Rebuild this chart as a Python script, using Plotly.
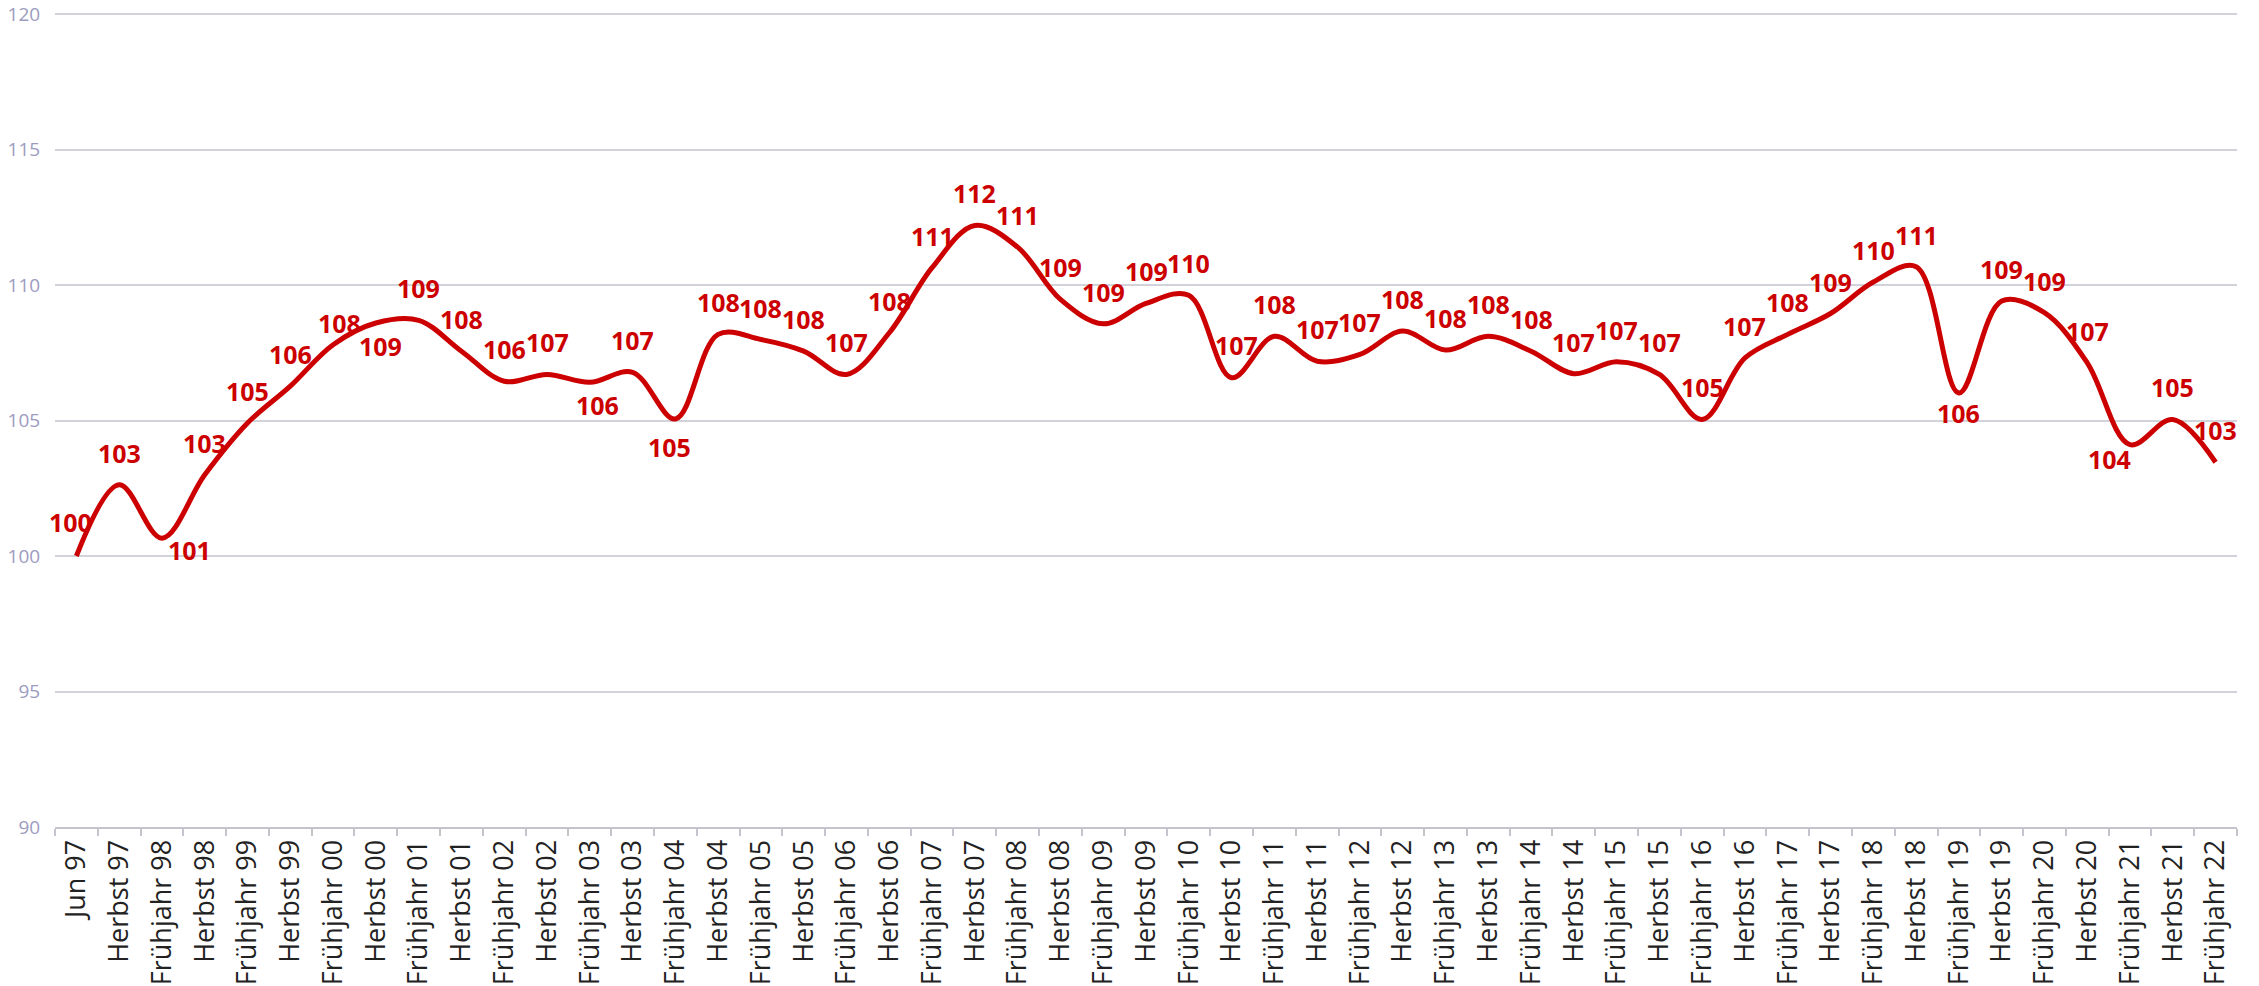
import plotly.graph_objects as go

categories = [
    "Jun 97", "Herbst 97",
    "Frühjahr 98", "Herbst 98", "Frühjahr 99", "Herbst 99", "Frühjahr 00", "Herbst 00",
    "Frühjahr 01", "Herbst 01", "Frühjahr 02", "Herbst 02", "Frühjahr 03", "Herbst 03",
    "Frühjahr 04", "Herbst 04", "Frühjahr 05", "Herbst 05", "Frühjahr 06", "Herbst 06",
    "Frühjahr 07", "Herbst 07", "Frühjahr 08", "Herbst 08", "Frühjahr 09", "Herbst 09",
    "Frühjahr 10", "Herbst 10", "Frühjahr 11", "Herbst 11", "Frühjahr 12", "Herbst 12",
    "Frühjahr 13", "Herbst 13", "Frühjahr 14", "Herbst 14", "Frühjahr 15", "Herbst 15",
    "Frühjahr 16", "Herbst 16", "Frühjahr 17", "Herbst 17", "Frühjahr 18", "Herbst 18",
    "Frühjahr 19", "Herbst 19", "Frühjahr 20", "Herbst 20", "Frühjahr 21", "Herbst 21",
    "Frühjahr 22",
]

values = [
    100.0, 102.63, 100.66, 103.0, 104.91, 106.27, 107.8, 108.6, 108.7, 107.56,
    106.45, 106.7, 106.41, 106.78, 105.06, 108.18, 107.99, 107.56, 106.7, 108.24,
    110.64, 112.2, 111.4, 109.47, 108.57, 109.32, 109.62, 106.58, 108.11, 107.19,
    107.44, 108.3, 107.6, 108.11, 107.56, 106.73, 107.17, 106.7, 105.04, 107.31,
    108.18, 108.95, 110.11, 110.68, 106.02, 109.41, 108.98, 107.13, 104.11, 105.04,
    103.46,
]

labels = [
    "100", "103", "101", "103", "105", "106", "108", "109", "109", "108",
    "106", "107", "106", "107", "105", "108", "108", "108", "107", "108",
    "111", "112", "111", "109", "109", "109", "110", "107", "108", "107",
    "107", "108", "108", "108", "108", "107", "107", "107", "105", "107",
    "108", "109", "110", "111", "106", "109", "109", "107", "104", "105",
    "103",
]

y_ticks = [90, 95, 100, 105, 110, 115, 120]

# label placement offsets (pixels): default above the point
default_shift = (0, 32)
special_shift = {
    0: (-6, 34),
    2: (28, -12),
    6: (6, 22),
    7: (5, -23),
    12: (8, -23),
    14: (-6, -28),
    27: (5, 33),
    44: (0, -20),
    48: (-21, -14),
}

RED = "#cc0000"

fig = go.Figure()
fig.add_trace(go.Scatter(
    x=categories, y=values, mode="lines",
    line=dict(color=RED, width=5, shape="spline", smoothing=1),
    hoverinfo="x+y", showlegend=False,
))

for i, (c, v, t) in enumerate(zip(categories, values, labels)):
    dx, dy = special_shift.get(i, default_shift)
    fig.add_annotation(
        x=c, y=v, text=f"<b>{t}</b>", showarrow=False,
        xshift=dx, yshift=dy, xanchor="center", yanchor="middle",
        font=dict(family="Open Sans", size=25, color=RED),
    )

fig.update_layout(
    width=2259, height=986,
    margin=dict(l=55, r=22, t=13, b=159),
    paper_bgcolor="white", plot_bgcolor="white",
    xaxis=dict(
        type="category", categoryorder="array", categoryarray=categories,
        tickangle=-90, tickson="boundaries", ticks="outside", ticklen=7,
        tickcolor="#c4c4cc", tickwidth=1.5,
        showline=True, linecolor="#c4c4cc", linewidth=2,
        showgrid=False, automargin=False,
        tickfont=dict(family="Open Sans", size=27, color="#222222"),
        range=[-0.5, len(categories) - 0.5],
    ),
    yaxis=dict(
        range=[90, 120.04], tickvals=y_ticks, ticktext=[str(t) for t in y_ticks],
        showgrid=True, gridcolor="#d2d2da", gridwidth=1.5,
        zeroline=False, showline=False,
        ticks="outside", ticklen=10, tickcolor="rgba(0,0,0,0)",
        tickfont=dict(family="Open Sans", size=19, color="#9d9bc0"),
        automargin=False,
    ),
)

# remove the browser's default body margin so the figure fills the window exactly
fig.write_html(
    "out.html",
    config={"displayModeBar": False},
    post_script="document.body.style.margin='0px';document.body.style.overflow='hidden';",
)
